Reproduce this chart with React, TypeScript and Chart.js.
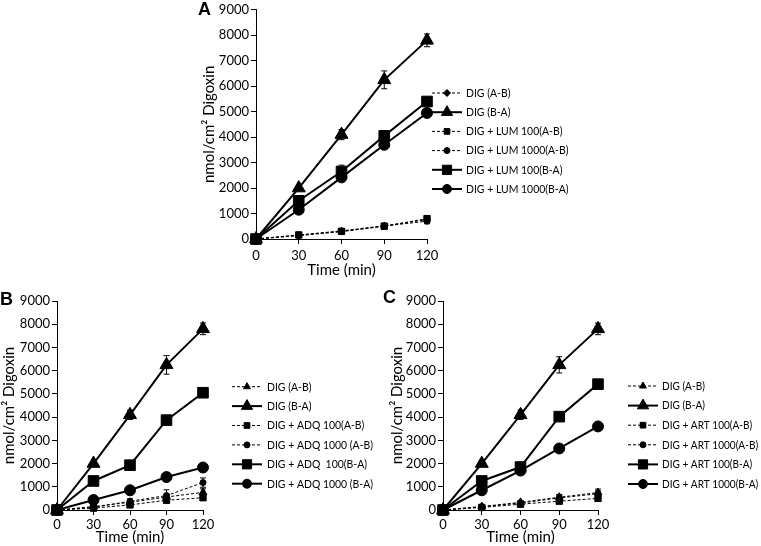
import React, { useEffect, useRef } from 'react';
import { Chart, registerables } from 'chart.js';
import { drawPoint } from 'chart.js/helpers';

Chart.register(...registerables);

// ---------- shared axes ----------
const timeMin = [0, 30, 60, 90, 120];
const yMin = 0;
const yMax = 9000;
const yStep = 1000;
const xStep = 30;
const xTitle = 'Time (min)';
const yTitle = 'nmol/cm² Digoxin';

// ---------- Panel A ----------
const aLabels = ['DIG (A-B)', 'DIG (B-A)', 'DIG + LUM 100(A-B)', 'DIG + LUM 1000(A-B)', 'DIG + LUM 100(B-A)', 'DIG + LUM 1000(B-A)'];
const aMarkers = ['rectRot', 'triangle', 'rect', 'circle', 'rect', 'circle'];
const aDashed = [true, false, true, true, false, false];
const aDigAB = [0, 150, 320, 520, 760];
const aDigBA = [0, 2000, 4100, 6250, 7800];
const aLum100AB = [0, 160, 300, 500, 800];
const aLum1000AB = [0, 130, 290, 510, 700];
const aLum100BA = [0, 1500, 2650, 4050, 5400];
const aLum1000BA = [0, 1150, 2420, 3700, 4950];
const aDigABErr = [0, 40, 80, 100, 120];
const aDigBAErr = [0, 80, 200, 350, 250];
const aLum100ABErr = [0, 40, 80, 100, 120];
const aLum1000ABErr = [0, 40, 80, 100, 100];
const aLum100BAErr = [0, 100, 250, 100, 100];
const aLum1000BAErr = [0, 80, 100, 80, 80];

// ---------- Panel B ----------
const bLabels = ['DIG (A-B)', 'DIG (B-A)', 'DIG + ADQ 100(A-B)', 'DIG + ADQ 1000 (A-B)', 'DIG + ADQ  100(B-A)', 'DIG + ADQ 1000 (B-A)'];
const bMarkers = ['triangle', 'triangle', 'rect', 'circle', 'rect', 'circle'];
const bDashed = [true, false, true, true, false, false];
const bDigAB = [0, 150, 330, 560, 760];
const bDigBA = [0, 2000, 4100, 6250, 7800];
const bAdq100AB = [0, 80, 220, 420, 530];
const bAdq1000AB = [0, 110, 380, 620, 1180];
const bAdq100BA = [0, 1250, 1930, 3870, 5050];
const bAdq1000BA = [0, 430, 850, 1420, 1830];
const bDigABErr = [0, 40, 80, 120, 150];
const bDigBAErr = [0, 60, 200, 400, 250];
const bAdq100ABErr = [0, 30, 50, 80, 100];
const bAdq1000ABErr = [0, 40, 100, 250, 200];
const bAdq100BAErr = [0, 60, 80, 80, 80];
const bAdq1000BAErr = [0, 60, 60, 60, 60];

// ---------- Panel C ----------
const cLabels = ['DIG (A-B)', 'DIG (B-A)', 'DIG + ART 100(A-B)', 'DIG + ART 1000(A-B)', 'DIG + ART 100(B-A)', 'DIG + ART 1000(B-A)'];
const cMarkers = ['triangle', 'triangle', 'rect', 'circle', 'rect', 'circle'];
const cDashed = [true, false, true, true, false, false];
const cDigAB = [0, 150, 330, 550, 750];
const cDigBA = [0, 2000, 4100, 6250, 7800];
const cArt100AB = [0, 110, 250, 380, 500];
const cArt1000AB = [0, 140, 300, 520, 700];
const cArt100BA = [0, 1250, 1850, 4020, 5420];
const cArt1000BA = [0, 850, 1700, 2650, 3600];
const cDigABErr = [0, 40, 80, 120, 150];
const cDigBAErr = [0, 60, 200, 350, 250];
const cArt100ABErr = [0, 30, 50, 80, 100];
const cArt1000ABErr = [0, 40, 80, 100, 120];
const cArt100BAErr = [0, 80, 80, 80, 150];
const cArt1000BAErr = [0, 60, 60, 60, 60];

type Series = { label: string; values: number[]; err: number[]; dashed: boolean; marker: string };

function makeSeries(labels: string[], markers: string[], dashed: boolean[], values: number[][], errs: number[][]): Series[] {
  return labels.map((label, i) => ({ label, values: values[i], err: errs[i], dashed: dashed[i], marker: markers[i] }));
}

const seriesA = makeSeries(aLabels, aMarkers, aDashed,
  [aDigAB, aDigBA, aLum100AB, aLum1000AB, aLum100BA, aLum1000BA],
  [aDigABErr, aDigBAErr, aLum100ABErr, aLum1000ABErr, aLum100BAErr, aLum1000BAErr]);
const seriesB = makeSeries(bLabels, bMarkers, bDashed,
  [bDigAB, bDigBA, bAdq100AB, bAdq1000AB, bAdq100BA, bAdq1000BA],
  [bDigABErr, bDigBAErr, bAdq100ABErr, bAdq1000ABErr, bAdq100BAErr, bAdq1000BAErr]);
const seriesC = makeSeries(cLabels, cMarkers, cDashed,
  [cDigAB, cDigBA, cArt100AB, cArt1000AB, cArt100BA, cArt1000BA],
  [cDigABErr, cDigBAErr, cArt100ABErr, cArt1000ABErr, cArt100BAErr, cArt1000BAErr]);

const FONT = 'Lato';

function markerRadius(marker: string, dashed: boolean, legend = false): number {
  if (dashed) {
    if (marker === 'triangle') return legend ? 4 : 4.5;
    if (marker === 'rect') return legend ? 4 : 4.5;
    if (marker === 'rectRot') return 3.5;
    return 3;
  }
  if (marker === 'triangle') return legend ? 6.5 : 7.5;
  if (marker === 'rect') return legend ? 6.5 : 7.5;
  return legend ? 4.5 : 5.5;
}

const errorBarPlugin = {
  id: 'errorBars',
  beforeDatasetsDraw(chart: any) {
    const ctx = chart.ctx;
    const yScale = chart.scales.y;
    ctx.save();
    ctx.strokeStyle = '#000';
    ctx.lineWidth = 1;
    ctx.setLineDash([]);
    chart.data.datasets.forEach((ds: any, i: number) => {
      const meta = chart.getDatasetMeta(i);
      const errs: number[] = ds.err || [];
      meta.data.forEach((pt: any, j: number) => {
        const e = errs[j];
        if (!e) return;
        const v = ds.data[j].y;
        const yt = yScale.getPixelForValue(v + e);
        const yb = yScale.getPixelForValue(Math.max(0, v - e));
        const x = pt.x;
        ctx.beginPath();
        ctx.moveTo(x, yt);
        ctx.lineTo(x, yb);
        ctx.moveTo(x - 3, yt);
        ctx.lineTo(x + 3, yt);
        ctx.moveTo(x - 3, yb);
        ctx.lineTo(x + 3, yb);
        ctx.stroke();
      });
    });
    ctx.restore();
  },
};

type LegendCfg = { x: number; y0: number; dy: number; textGap: number; squeeze: number };

function makeLegendPlugin(series: Series[], cfg: LegendCfg) {
  return {
    id: 'lineLegend',
    afterDraw(chart: any) {
      const ctx = chart.ctx;
      ctx.save();
      series.forEach((s, i) => {
        const y = cfg.y0 + i * cfg.dy;
        ctx.strokeStyle = '#000';
        ctx.fillStyle = '#000';
        ctx.lineWidth = s.dashed ? 1 : 2;
        ctx.setLineDash(s.dashed ? [3, 2] : []);
        ctx.beginPath();
        ctx.moveTo(cfg.x, y);
        ctx.lineTo(cfg.x + 30, y);
        ctx.stroke();
        ctx.setLineDash([]);
        ctx.lineWidth = 1;
        drawPoint(ctx, { pointStyle: s.marker as any, rotation: 0, radius: markerRadius(s.marker, s.dashed, true), borderWidth: 1 } as any, cfg.x + 15, y);
        ctx.font = `12px ${FONT}`;
        ctx.textBaseline = 'middle';
        ctx.textAlign = 'left';
        const w = ctx.measureText(s.label).width;
        ctx.fillText(s.label, cfg.x + 30 + cfg.textGap, y, w * cfg.squeeze);
      });
      ctx.restore();
    },
  };
}

type PanelProps = {
  letter: string;
  letterLeft: number;
  letterTop: number;
  left: number;
  top: number;
  width: number;
  height: number;
  yAxisWidth: number;
  xAxisHeight: number;
  pad: { left: number; top: number; right: number; bottom: number };
  xTickPad: number;
  series: Series[];
  legend: LegendCfg;
};

function Panel(p: PanelProps) {
  const ref = useRef<HTMLCanvasElement>(null);
  useEffect(() => {
    const tickFont = { family: FONT, size: 13 };
    const titleFont = { family: FONT, size: 15 };
    const chart = new Chart(ref.current!, {
      type: 'line',
      data: {
        datasets: p.series.map((s) => ({
          label: s.label,
          data: timeMin.map((t, i) => ({ x: t, y: s.values[i] })),
          err: s.err,
          borderColor: '#000',
          backgroundColor: '#000',
          borderWidth: s.dashed ? 1 : 2,
          borderDash: s.dashed ? [3, 2] : [],
          pointStyle: s.marker,
          pointRadius: markerRadius(s.marker, s.dashed),
          pointBackgroundColor: '#000',
          pointBorderColor: '#000',
          pointBorderWidth: 1,
          tension: 0,
          fill: false,
          clip: false,
        })) as any,
      },
      options: {
        animation: false,
        responsive: false,
        events: [],
        layout: { padding: p.pad },
        plugins: { legend: { display: false }, tooltip: { enabled: false } },
        scales: {
          x: {
            type: 'linear',
            min: 0,
            max: 120,
            ticks: { stepSize: xStep, color: '#000', font: tickFont, padding: p.xTickPad, maxRotation: 0, autoSkip: false },
            grid: { drawOnChartArea: false, drawTicks: true, tickLength: 5, color: '#000', lineWidth: 1 },
            border: { color: '#000', width: 1 },
            title: { display: true, text: xTitle, color: '#000', font: titleFont, padding: 0 },
            afterFit: (s: any) => { s.height = p.xAxisHeight; },
          },
          y: {
            type: 'linear',
            min: yMin,
            max: yMax,
            ticks: { stepSize: yStep, color: '#000', font: tickFont, padding: 2, callback: (v: any) => String(v) },
            grid: { drawOnChartArea: false, drawTicks: true, tickLength: 5, color: '#000', lineWidth: 1 },
            border: { color: '#000', width: 1 },
            title: { display: true, text: yTitle, color: '#000', font: titleFont, padding: 0 },
            afterFit: (s: any) => { s.width = p.yAxisWidth; },
          },
        },
      } as any,
      plugins: [errorBarPlugin, makeLegendPlugin(p.series, p.legend)],
    });
    return () => chart.destroy();
  }, []);
  return (
    <>
      <canvas
        ref={ref}
        width={p.width}
        height={p.height}
        style={{ position: 'absolute', left: p.left, top: p.top, width: p.width, height: p.height, display: 'block' }}
      />
      <div
        style={{
          position: 'absolute',
          left: p.letterLeft,
          top: p.letterTop,
          fontFamily: 'Liberation Sans, Arial, sans-serif',
          fontWeight: 'bold',
          fontSize: 18,
          lineHeight: '18px',
          color: '#000',
        }}
      >
        {p.letter}
      </div>
    </>
  );
}

export default function App() {
  return (
    <div style={{ position: 'absolute', left: 0, top: 0, width: 761, height: 546, background: '#fff', overflow: 'hidden' }}>
      <Panel
        letter="A" letterLeft={198} letterTop={0}
        left={200} top={0} width={420} height={285}
        yAxisWidth={56} xAxisHeight={40}
        pad={{ left: 0, top: 8, right: 193, bottom: 6 }}
        xTickPad={4}
        series={seriesA}
        legend={{ x: 232, y0: 93, dy: 19.2, textGap: 4, squeeze: 0.87 }}
      />
      <Panel
        letter="B" letterLeft={0} letterTop={290}
        left={0} top={280} width={390} height={266}
        yAxisWidth={57} xAxisHeight={36}
        pad={{ left: 0, top: 21, right: 187, bottom: 0 }}
        xTickPad={2}
        series={seriesB}
        legend={{ x: 232, y0: 106.7, dy: 19.4, textGap: 5, squeeze: 0.87 }}
      />
      <Panel
        letter="C" letterLeft={383} letterTop={288}
        left={388} top={280} width={373} height={266}
        yAxisWidth={55} xAxisHeight={36}
        pad={{ left: 0, top: 21, right: 163, bottom: 0 }}
        xTickPad={2}
        series={seriesC}
        legend={{ x: 240, y0: 106, dy: 19.6, textGap: 4, squeeze: 0.84 }}
      />
    </div>
  );
}
